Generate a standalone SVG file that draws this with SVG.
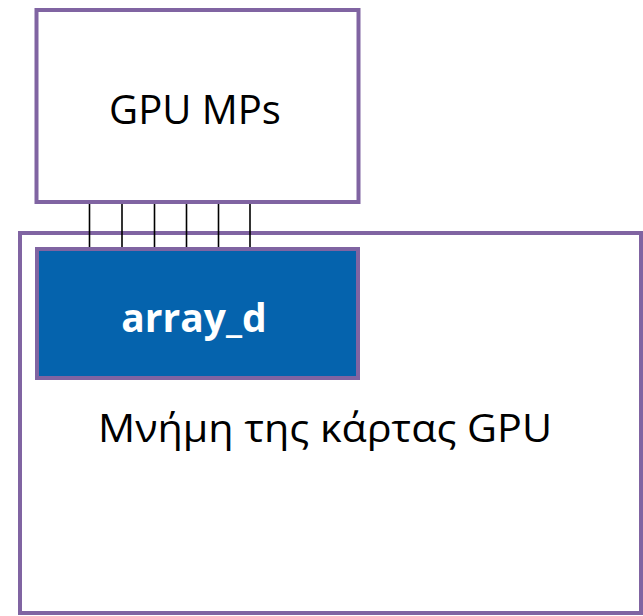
<svg xmlns="http://www.w3.org/2000/svg" width="643" height="616" viewBox="0 0 643 616">
  <style>
    .box { fill: #ffffff; stroke: #8064a2; stroke-width: 4; }
    .mem { fill: #0563ad; stroke: #8064a2; stroke-width: 4; }
    .bus line { stroke: #000000; stroke-width: 1.6; }
    .lbl { font-family: "Open Sans", "Noto Sans", sans-serif; fill: #000000; text-anchor: middle; }
    .lbl-w { font-family: "Open Sans", "Noto Sans", sans-serif; fill: #ffffff; font-weight: bold; text-anchor: middle; }
  </style>
  <rect width="643" height="616" fill="#ffffff"/>

  <!-- GPU card memory -->
  <g id="gpu-memory">
    <rect class="box" x="20" y="233" width="621" height="380"/>
    <text class="lbl" x="325" y="442" font-size="39" textLength="454" lengthAdjust="spacingAndGlyphs">Μνήμη της κάρτας GPU</text>
  </g>

  <!-- multiprocessors -->
  <g id="gpu-mps">
    <rect class="box" x="36.5" y="10" width="322" height="192"/>
    <text class="lbl" x="195" y="124" font-size="40">GPU MPs</text>
  </g>

  <!-- connectors between the multiprocessors and the array -->
  <g id="connectors" class="bus">
    <line x1="89.5" y1="204" x2="89.5" y2="249"/>
    <line x1="122" y1="204" x2="122" y2="249"/>
    <line x1="154.5" y1="204" x2="154.5" y2="249"/>
    <line x1="186.5" y1="204" x2="186.5" y2="249"/>
    <line x1="218.5" y1="204" x2="218.5" y2="249"/>
    <line x1="250" y1="204" x2="250" y2="249"/>
  </g>

  <!-- device array -->
  <g id="array-d">
    <rect class="mem" x="37" y="249" width="321" height="129"/>
    <text class="lbl-w" x="194" y="332" font-size="39">array_d</text>
  </g>
</svg>
